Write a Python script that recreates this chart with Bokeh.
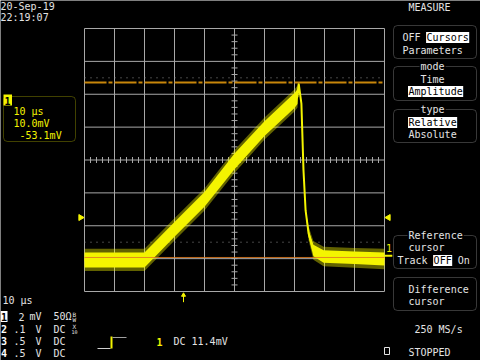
import numpy as np
from bokeh.plotting import figure
from bokeh.models import Range1d, BoxAnnotation
from bokeh.core.properties import value
from bokeh.embed import file_html
from bokeh.resources import INLINE

# ---------------- data ----------------
trace_t_us = [-50, -40, -30, -20, -10, 0, 10, 20, 21.0, 21.4, 22.3, 23.0, 23.7, 24.7, 26.3, 29.7, 40, 50]
trace_mv = [-6.08, -6.08, -6.08, -4.22, -2.40, -0.09, 1.91, 3.62, 3.86, 4.65, 3.43, -0.64, -3.07, -4.47, -5.50, -5.87, -5.95, -6.02]
noise_mv = [0.46, 0.46, 0.46, 0.45, 0.45, 0.48, 0.45, 0.45, 0.45, 0.05, 0.05, 0.05, 0.08, 0.20, 0.35, 0.38, 0.38, 0.40]
cursor_upper_mv = 4.71
cursor_ref_mv = -5.93
dotted_levels_mv = [5.0, -5.0]
trig_level_mv = -3.5
trig_time_us = -17.0

timebase = "10 µs"
cursor_readout = ["10 µs", "10.0mV", " -53.1mV"]
channels = ["1", "2", "3", "4"]
ch_scale = ["2", ".1", ".5", ".5"]
ch_unit = ["mV", "V", "V", "V"]
ch_coupling = ["50Ω", "DC", "DC", "DC"]
trigger_text = "DC 11.4mV"
date_text = ["20-Sep-19", "22:19:07"]
sample_rate = "250 MS/s"

# ---------------- screen geometry ----------------
W, H = 480, 360
GL, GR, GT, GB = 84, 384, 28, 291
NX, NY = 10, 8
T_DIV, V_DIV = 10, 2
px_t = (GR - GL) / (NX * T_DIV)
px_v = (GB - GT) / (NY * V_DIV)
t_lo, t_hi = -NX * T_DIV / 2, NX * T_DIV / 2
v_lo, v_hi = -NY * V_DIV / 2, NY * V_DIV / 2

FONT = value("DejaVu Sans Mono")
FG = "#e4e4e4"
GRIDC = "#a8a8a8"
YEL = "#f4f400"
YEL2 = "#d8d800"
CW = 6.02

p = figure(width=W, height=H, x_range=Range1d(0, W), y_range=Range1d(H, 0),
           x_axis_type=None, y_axis_type=None, min_border=0,
           toolbar_location=None, output_backend="svg",
           background_fill_color="black", border_fill_color="black",
           outline_line_color=None)
p.extra_x_ranges = {"t": Range1d(t_lo - GL / px_t, t_hi + (W - GR) / px_t)}
p.extra_y_ranges = {"v": Range1d(v_lo - (H - GB) / px_v, v_hi + GT / px_v)}
TV = dict(x_range_name="t", y_range_name="v")

# ---------------- graticule ----------------
gx = np.arange(t_lo, t_hi + 0.1, T_DIV)
gy = np.arange(v_lo, v_hi + 0.01, V_DIV)
p.segment(x0=gx, y0=v_lo, x1=gx, y1=v_hi, line_color=GRIDC, line_width=1, **TV)
p.segment(x0=t_lo, y0=gy, x1=t_hi, y1=gy, line_color=GRIDC, line_width=1, **TV)
mx = np.arange(t_lo, t_hi + 0.1, T_DIV / 5)
my = np.arange(v_lo, v_hi + 0.01, V_DIV / 5)
tv = 3 / px_v
tt = 3 / px_t
p.segment(x0=mx, y0=-tv, x1=mx, y1=tv, line_color=GRIDC, line_width=1, **TV)
p.segment(x0=-tt, y0=my, x1=tt, y1=my, line_color=GRIDC, line_width=1, **TV)

# dotted level lines
for lv in dotted_levels_mv:
    p.line([t_lo, t_hi], [lv, lv], line_color="#8a8a8a", line_width=1, line_dash="1 5", **TV)

# upper cursor
p.line([t_lo, t_hi], [cursor_upper_mv] * 2, line_color="#c8860a", line_width=2,
       line_dash="22 2 4 2", **TV)

# ---------------- trace ----------------
tr_t = np.array(trace_t_us)
tr_v = np.array(trace_mv)
tr_n = np.array(noise_mv)
fuzz = 0.22 * (tr_n > 0.1)
p.varea(x=tr_t, y1=tr_v - tr_n - fuzz, y2=tr_v + tr_n + fuzz, fill_color=YEL,
        fill_alpha=0.4, **TV)
p.varea(x=tr_t, y1=tr_v - tr_n, y2=tr_v + tr_n, fill_color=YEL, **TV)
p.line(tr_t, tr_v, line_color=YEL, line_width=2, **TV)

# reference cursor
p.line([t_lo, t_hi], [cursor_ref_mv] * 2, line_color="#e07a20", line_width=1,
       line_alpha=0.85, **TV)

# trigger level markers and trigger position
p.scatter(x=[t_lo - 1.3], y=[trig_level_mv], marker="triangle", angle=-np.pi / 2,
          size=6, fill_color=YEL, line_color=YEL, **TV)
p.scatter(x=[t_hi + 1.3], y=[trig_level_mv], marker="triangle", angle=np.pi / 2,
          size=6, fill_color=YEL, line_color=YEL, **TV)
p.segment(x0=[trig_time_us], y0=[v_lo - 0.15], x1=[trig_time_us], y1=[v_lo - 0.65],
          line_color=YEL, line_width=1, **TV)
p.scatter(x=[trig_time_us], y=[v_lo - 0.22], marker="triangle", size=4,
          fill_color=YEL, line_color=YEL, **TV)
# channel 1 ground marker at right
p.segment(x0=[t_hi], y0=[cursor_ref_mv + 0.1], x1=[t_hi + 2.6], y1=[cursor_ref_mv + 0.1],
          line_color=YEL, line_width=2, **TV)


def txt(x, y, s, color=FG, size="10px", style="normal", align="left"):
    lead = len(s) - len(s.lstrip(" "))
    s = s.lstrip(" ")
    if not s:
        return
    p.text(x=[x + lead * CW], y=[y], text=[s], text_font=FONT, text_font_size=size,
           text_color=color, text_baseline="middle", text_align=align,
           text_font_style=style)


txt(385.5, 247, channels[0], color=YEL)

# ---------------- top-left date ----------------
txt(0, 6, date_text[0])
txt(0, 17, date_text[1])

# ---------------- cursor readout box ----------------
p.add_layout(BoxAnnotation(left=3, right=75, top=96, bottom=141, fill_alpha=0,
                           line_color=YEL2, line_width=1, border_radius=4,
                           level="underlay"))
p.quad(left=[3], right=[11.5], top=[94], bottom=[105], fill_color=YEL, line_color=None)
txt(4, 100, channels[0], color="black", style="bold")
txt(13, 110.5, cursor_readout[0], color=YEL)
txt(13, 122.5, cursor_readout[1], color=YEL)
txt(13, 134.5, cursor_readout[2], color=YEL)

# ---------------- right menu ----------------
txt(408, 7, "MEASURE")


def box(top, bottom, title=None, tx=None):
    p.add_layout(BoxAnnotation(left=393, right=476, top=top, bottom=bottom,
                               fill_alpha=0, line_color="#b8b8b8", line_width=1,
                               border_radius=4, level="underlay"))
    if title:
        w = len(title) * CW
        p.quad(left=[tx - 1], right=[tx + w + 1], top=[top - 5], bottom=[top + 5],
               fill_color="black", line_color=None)
        txt(tx, top, title)


def hl_line(x, y, s, start=None, n=0):
    if start is not None:
        p.quad(left=[x + start * CW - 0.5], right=[x + (start + n) * CW + 0.5],
               top=[y - 5.5], bottom=[y + 5.5], fill_color="white", line_color=None)
        pre, mid, post = s[:start], s[start:start + n], s[start + n:]
        if pre:
            txt(x, y, pre)
        txt(x + start * CW, y, mid, color="black")
        if post:
            txt(x + (start + n) * CW, y, post)
    else:
        txt(x, y, s)


box(25, 58)
hl_line(402, 37, "OFF Cursors", 4, 7)
hl_line(402, 50, "Parameters")
box(66, 100, "mode", 420)
hl_line(420, 79, "Time")
hl_line(408, 91, "Amplitude", 0, 9)
box(109, 142, "type", 420)
hl_line(408, 122, "Relative", 0, 8)
hl_line(408, 134, "Absolute")
box(235, 268, "Reference", 408)
hl_line(408, 247, "cursor")
hl_line(397, 260, "Track OFF On", 6, 3)
box(277, 310)
hl_line(408, 289, "Difference")
hl_line(408, 301, "cursor")
txt(414, 329, sample_rate)
p.quad(left=[384], right=[389], top=[347], bottom=[354], fill_color=None,
       line_color=FG, line_width=1)
txt(408, 352, "STOPPED")

# ---------------- bottom-left channel info ----------------
txt(2, 300, timebase)
rows = [316, 328.5, 340.5, 352.5]
for i, ch in enumerate(channels):
    y = rows[i]
    if i == 0:
        p.quad(left=[0], right=[7], top=[y - 5.5], bottom=[y + 5.5], fill_color="white",
               line_color=None)
        txt(0.5, y, ch, color="black", style="bold")
    else:
        txt(0.5, y, ch, color="white", style="bold")
    if ch_scale[i].startswith("."):
        txt(13, y, ch_scale[i])
    else:
        txt(18, y, ch_scale[i])
    txt(29 if ch_unit[i] == "mV" else 35, y, ch_unit[i])
    txt(53, y, ch_coupling[i])
txt(72, 313.5, "B", size="6px")
txt(72, 319, "W", size="6px")
txt(72, 326, "X", size="6px")
txt(71, 331.5, "10", size="5px")

# trigger symbol and level
p.segment(x0=[97], y0=[348], x1=[110], y1=[348], line_color="#d0d0d0", line_width=1)
p.segment(x0=[111], y0=[336], x1=[111], y1=[348], line_color=YEL, line_width=2)
p.segment(x0=[112], y0=[337], x1=[126], y1=[337], line_color="#a0a0a0", line_width=1)
txt(156, 341, channels[0], color=YEL, style="bold")
txt(173, 341, trigger_text)

open("out.html", "w").write(file_html(p, INLINE))
